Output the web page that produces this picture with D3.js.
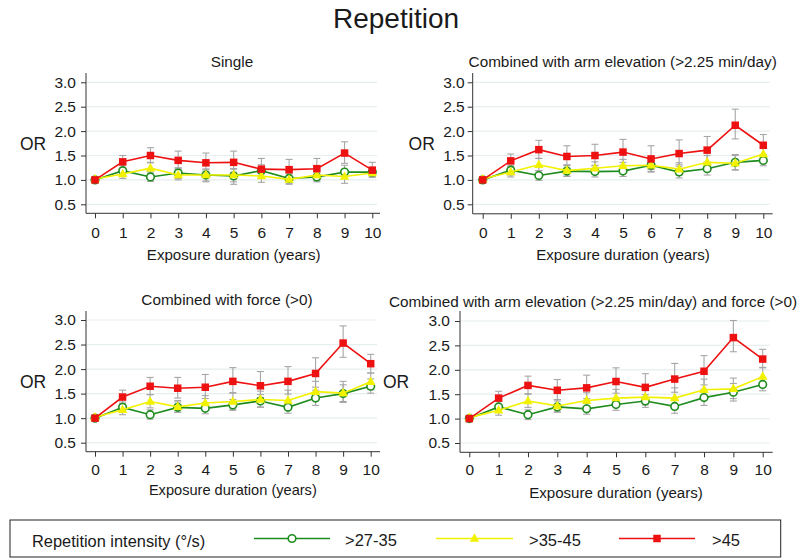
<!DOCTYPE html>
<html><head><meta charset="utf-8">
<script src="https://cdn.jsdelivr.net/npm/d3@7"></script>
<style>
body{margin:0;background:#fff;}
text{font-family:"Liberation Sans",Arial,sans-serif;fill:#1a1a1a;}
</style></head>
<body><svg id="c" width="799" height="560"></svg>
<script>
// ---------- data ----------
const years = [0,1,2,3,4,5,6,7,8,9,10];
const xTicks = [0,1,2,3,4,5,6,7,8,9,10];
const yTicks = [0.5,1.0,1.5,2.0,2.5,3.0];
const mainTitle = "Repetition";
const panelTitles = ["Single","Combined with arm elevation (>2.25 min/day)","Combined with force (>0)","Combined with arm elevation (>2.25 min/day) and force (>0)"];
const seriesNames = [">27-35",">35-45",">45"];
const legendTitle = "Repetition intensity (°/s)";
const xTitle = "Exposure duration (years)";
const yTitle = "OR";

// Panel 1: Single
const p1_green    = [1.00,1.19,1.06,1.14,1.10,1.08,1.19,1.03,1.06,1.16,1.16];
const p1_green_lo = [1.00,1.09,0.97,1.03,0.98,0.91,1.07,0.93,0.96,1.03,1.08];
const p1_green_hi = [1.00,1.30,1.16,1.25,1.22,1.22,1.31,1.14,1.16,1.30,1.24];
const p1_yellow    = [1.02,1.12,1.24,1.10,1.10,1.10,1.08,1.01,1.10,1.07,1.14];
const p1_yellow_lo = [1.02,1.03,1.12,1.00,0.96,0.96,0.95,0.91,0.98,0.93,1.05];
const p1_yellow_hi = [1.02,1.22,1.36,1.21,1.22,1.23,1.20,1.12,1.22,1.20,1.24];
const p1_red    = [1.00,1.37,1.50,1.40,1.35,1.36,1.22,1.21,1.23,1.55,1.20];
const p1_red_lo = [1.00,1.25,1.35,1.23,1.18,1.16,1.04,1.03,1.05,1.34,1.07];
const p1_red_hi = [1.00,1.50,1.66,1.59,1.55,1.59,1.44,1.42,1.44,1.78,1.36];

// Panel 2: arm elevation
const p2_green    = [1.00,1.20,1.09,1.18,1.17,1.18,1.30,1.16,1.23,1.36,1.40];
const p2_green_lo = [1.00,1.10,0.99,1.07,1.06,1.07,1.17,1.04,1.10,1.21,1.29];
const p2_green_hi = [1.00,1.30,1.19,1.30,1.29,1.30,1.44,1.28,1.36,1.52,1.52];
const p2_yellow    = [1.02,1.16,1.31,1.19,1.24,1.29,1.30,1.22,1.36,1.34,1.53];
const p2_yellow_lo = [1.02,1.06,1.19,1.08,1.12,1.17,1.16,1.10,1.23,1.20,1.41];
const p2_yellow_hi = [1.02,1.26,1.44,1.31,1.37,1.42,1.45,1.35,1.50,1.50,1.66];
const p2_red    = [1.00,1.39,1.62,1.48,1.50,1.57,1.43,1.54,1.61,2.12,1.71];
const p2_red_lo = [1.00,1.27,1.44,1.29,1.30,1.36,1.21,1.31,1.36,1.84,1.51];
const p2_red_hi = [1.00,1.53,1.81,1.70,1.73,1.83,1.70,1.82,1.89,2.45,1.93];

// Panel 3: force
const p3_green    = [1.00,1.22,1.07,1.22,1.20,1.27,1.35,1.22,1.41,1.50,1.65];
const p3_green_lo = [1.00,1.12,0.98,1.12,1.09,1.16,1.22,1.10,1.26,1.34,1.51];
const p3_green_hi = [1.00,1.33,1.17,1.33,1.32,1.38,1.48,1.36,1.57,1.68,1.80];
const p3_yellow    = [1.02,1.17,1.34,1.23,1.31,1.34,1.38,1.36,1.54,1.51,1.74];
const p3_yellow_lo = [1.02,1.07,1.21,1.12,1.18,1.18,1.23,1.19,1.36,1.32,1.58];
const p3_yellow_hi = [1.02,1.27,1.48,1.36,1.46,1.52,1.55,1.57,1.75,1.75,1.92];
const p3_red    = [1.00,1.43,1.65,1.61,1.63,1.75,1.66,1.75,1.91,2.53,2.11];
const p3_red_lo = [1.00,1.30,1.48,1.41,1.40,1.51,1.42,1.49,1.63,2.24,1.92];
const p3_red_hi = [1.00,1.57,1.83,1.83,1.89,2.03,1.95,2.05,2.23,2.88,2.30];

// Panel 4: arm elevation and force
const p4_green    = [1.00,1.24,1.08,1.24,1.20,1.29,1.36,1.25,1.43,1.54,1.70];
const p4_green_lo = [1.00,1.13,0.98,1.13,1.09,1.17,1.23,1.11,1.27,1.36,1.57];
const p4_green_hi = [1.00,1.35,1.18,1.36,1.32,1.41,1.49,1.39,1.60,1.72,1.84];
const p4_yellow    = [1.02,1.17,1.36,1.26,1.37,1.42,1.44,1.42,1.59,1.61,1.86];
const p4_yellow_lo = [1.02,1.07,1.23,1.14,1.23,1.26,1.28,1.24,1.40,1.41,1.70];
const p4_yellow_hi = [1.02,1.28,1.51,1.39,1.53,1.60,1.62,1.63,1.81,1.83,2.05];
const p4_red    = [1.00,1.42,1.68,1.58,1.63,1.76,1.64,1.81,1.97,2.66,2.22];
const p4_red_lo = [1.00,1.29,1.50,1.39,1.41,1.52,1.41,1.54,1.69,2.37,2.04];
const p4_red_hi = [1.00,1.56,1.87,1.80,1.89,2.04,1.92,2.13,2.29,3.01,2.42];

// ---------- styles ----------
const colors = ["#1e8c1e","#f2f200","#ee1111"];
const symbols = ["circle","triangle","square"];
const ciColor = "#a6a6a6";
const gridColor = "#e6eef0";

const panelData = [
  [[p1_green,p1_green_lo,p1_green_hi],[p1_yellow,p1_yellow_lo,p1_yellow_hi],[p1_red,p1_red_lo,p1_red_hi]],
  [[p2_green,p2_green_lo,p2_green_hi],[p2_yellow,p2_yellow_lo,p2_yellow_hi],[p2_red,p2_red_lo,p2_red_hi]],
  [[p3_green,p3_green_lo,p3_green_hi],[p3_yellow,p3_yellow_lo,p3_yellow_hi],[p3_red,p3_red_lo,p3_red_hi]],
  [[p4_green,p4_green_lo,p4_green_hi],[p4_yellow,p4_yellow_lo,p4_yellow_hi],[p4_red,p4_red_lo,p4_red_hi]]
];

// layout (pixels)
const layouts = [
  {axL:86, axR:380, x0:95, x10:372.3, yLo:204.3, yHi:82.3, top:73, bot:213.3, labGap:10, tX:232, tY:62, orX:33, orY:144, xlabY:233, xtY:255, xtFs:15.1},
  {axL:472.7, axR:772.7, x0:482.7, x10:763.3, yLo:204.3, yHi:82.3, top:73, bot:213.8, labGap:8, tX:622.7, tY:62, orX:421.7, orY:144, xlabY:233, xtY:255, xtFs:15.1},
  {axL:86, axR:380, x0:95, x10:370.7, yLo:442.7, yHi:320, top:311, bot:451.7, labGap:10, tX:227, tY:300, orX:33, orY:382, xlabY:469.5, xtY:489.5, xtFs:14.6},
  {axL:460, axR:772.7, x0:469.3, x10:762.7, yLo:443, yHi:321, top:311, bot:452.3, labGap:10, tX:593, tY:302, orX:396, orY:382, xlabY:470, xtY:493, xtFs:15.1}
];

const svg = d3.select("#c");
svg.append("rect").attr("width",799).attr("height",560).attr("fill","#fff");

svg.append("text").attr("x",396).attr("y",28).attr("text-anchor","middle")
  .style("font-size","28px").text(mainTitle);

function drawMarker(g, type, cx, cy, color){
  if(type==="circle"){
    g.append("circle").attr("cx",cx).attr("cy",cy).attr("r",3.8)
     .attr("fill","#fff").attr("stroke",color).attr("stroke-width",1.6);
  } else if(type==="triangle"){
    const s=9.5, h=8.5;
    g.append("path").attr("d",`M${cx},${cy-h*0.62}L${cx+s/2},${cy+h*0.38}L${cx-s/2},${cy+h*0.38}Z`)
     .attr("fill",color);
  } else {
    const size=7.5;
    g.append("rect").attr("x",cx-size/2).attr("y",cy-size/2).attr("width",size).attr("height",size)
     .attr("fill",color);
  }
}

layouts.forEach((L,pi)=>{
  const x = d3.scaleLinear().domain([0,10]).range([L.x0,L.x10]);
  const y = d3.scaleLinear().domain([0.5,3.0]).range([L.yLo,L.yHi]);
  const g = svg.append("g");

  // gridlines
  g.selectAll(".grid").data(yTicks).join("line")
    .attr("x1",L.axL+1).attr("x2",L.axR-3)
    .attr("y1",d=>y(d)).attr("y2",d=>y(d))
    .attr("stroke",gridColor).attr("stroke-width",1.2);

  // y axis
  const ya = g.append("g").attr("transform",`translate(${L.axL},0)`)
    .call(d3.axisLeft(y).tickValues(yTicks).tickFormat(d3.format(".1f")).tickSize(5).tickPadding(L.labGap-5));
  ya.select(".domain").remove();
  ya.selectAll(".tick line").attr("stroke","#333");
  ya.selectAll(".tick text").style("font-size","15.5px").attr("fill","#1a1a1a")
    .style("font-family","'Liberation Sans',Arial,sans-serif");
  g.append("line").attr("x1",L.axL).attr("x2",L.axL).attr("y1",L.top).attr("y2",L.bot)
    .attr("stroke","#333").attr("stroke-width",1);

  // x axis
  const xa = g.append("g").attr("transform",`translate(0,${L.bot})`)
    .call(d3.axisBottom(x).tickValues(xTicks).tickFormat(d3.format("d")).tickSize(5).tickPadding(0));
  xa.select(".domain").remove();
  xa.selectAll(".tick line").attr("stroke","#333");
  xa.selectAll(".tick text").style("font-size","15.5px").attr("fill","#1a1a1a")
    .style("font-family","'Liberation Sans',Arial,sans-serif")
    .attr("y",L.xlabY-L.bot).attr("dy","0.35em");
  g.append("line").attr("x1",L.axL).attr("x2",L.axR).attr("y1",L.bot).attr("y2",L.bot)
    .attr("stroke","#333").attr("stroke-width",1);

  // titles
  g.append("text").attr("x",L.tX).attr("y",L.tY).attr("dy","0.35em").attr("text-anchor","middle")
    .style("font-size","15.3px").text(panelTitles[pi]);
  g.append("text").attr("x",L.orX).attr("y",L.orY).attr("dy","0.35em").attr("text-anchor","middle")
    .style("font-size","17.5px").text(yTitle);
  g.append("text").attr("x",(L.x0+L.x10)/2).attr("y",L.xtY).attr("dy","0.35em").attr("text-anchor","middle")
    .style("font-size",L.xtFs+"px").text(xTitle);

  const series = panelData[pi];
  // CIs
  series.forEach((s,si)=>{
    const [v,lo,hi] = s;
    years.forEach((yr,i)=>{
      if(hi[i]===lo[i]) return;
      const cx = x(yr);
      g.append("line").attr("x1",cx).attr("x2",cx).attr("y1",y(lo[i])).attr("y2",y(hi[i]))
        .attr("stroke",ciColor).attr("stroke-width",1.1);
      [lo[i],hi[i]].forEach(b=>{
        g.append("line").attr("x1",cx-3.5).attr("x2",cx+3.5).attr("y1",y(b)).attr("y2",y(b))
          .attr("stroke",ciColor).attr("stroke-width",1.1);
      });
    });
  });
  // lines and markers
  series.forEach((s,si)=>{
    const v = s[0];
    const line = d3.line().x((d,i)=>x(years[i])).y(d=>y(d));
    g.append("path").attr("d",line(v)).attr("fill","none")
      .attr("stroke",colors[si]).attr("stroke-width",1.6);
    v.forEach((val,i)=>drawMarker(g,symbols[si],x(years[i]),y(val),colors[si]));
  });
});

// legend
const lg = svg.append("g");
lg.append("rect").attr("x",10).attr("y",520).attr("width",770.7).attr("height",37)
  .attr("fill","#fff").attr("stroke","#222").attr("stroke-width",1);
lg.append("text").attr("x",32).attr("y",541).attr("dy","0.35em")
  .style("font-size","16.4px").text(legendTitle);
const legItems = [
  {x1:254,x2:330,tx:345},
  {x1:436,x2:513,tx:529},
  {x1:619,x2:695,tx:712}
];
legItems.forEach((it,i)=>{
  lg.append("line").attr("x1",it.x1).attr("x2",it.x2).attr("y1",538.5).attr("y2",538.5)
    .attr("stroke",colors[i]).attr("stroke-width",1.6);
  drawMarker(lg,symbols[i],(it.x1+it.x2)/2,538.5,colors[i]);
  lg.append("text").attr("x",it.tx).attr("y",540).attr("dy","0.35em")
    .style("font-size","16.5px").text(seriesNames[i]);
});
</script></body></html>
